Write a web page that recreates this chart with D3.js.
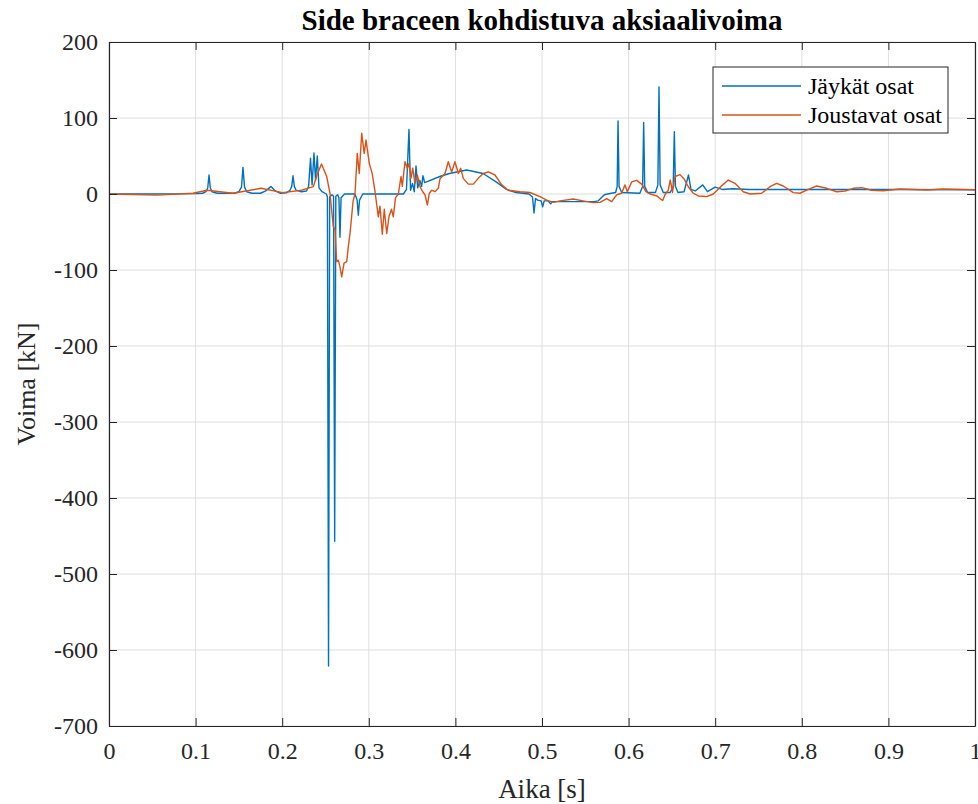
<!DOCTYPE html>
<html lang="fi">
<head>
  <meta charset="UTF-8">
  <title>Side braceen kohdistuva aksiaalivoima</title>
  <script src="https://cdn.jsdelivr.net/npm/d3@7"></script>
  <style>
    body { margin: 0; background: #fff; }
    .grid line { stroke: #dedede; stroke-width: 1; }
    .axis path, .axis line { stroke: #262626; }
  </style>
</head>
<body>
<svg id="chart"></svg>
<script>
  // tick labels
  const xTicks = [0, 0.1, 0.2, 0.3, 0.4, 0.5, 0.6, 0.7, 0.8, 0.9, 1];
  const yTicks = [200, 100, 0, -100, -200, -300, -400, -500, -600, -700];
  const seriesNames = ['Jäykät osat', 'Joustavat osat'];

  // [aika s, voima kN]
  const jaykat = [
    [0, 0], [0.05, 0], [0.10, 0.5], [0.108, 1], [0.112, 3], [0.114, 8], [0.1155, 25], [0.117, 8], [0.119, 3], [0.125, 1],
    [0.145, 1], [0.150, 3], [0.153, 9], [0.1547, 35], [0.1565, 9], [0.159, 3], [0.165, 1],
    [0.175, 1], [0.181, 4], [0.1871, 10], [0.192, 4], [0.198, 1],
    [0.205, 1.5], [0.209, 5], [0.211, 10], [0.2125, 24], [0.214, 10], [0.216, 5], [0.222, 3], [0.228, 4],
    [0.2305, 10], [0.2327, 47], [0.2345, 12], [0.2367, 54], [0.2385, 18], [0.2405, 50], [0.2425, 8], [0.246, 3], [0.251, 0],
    [0.2522, -4], [0.2535, -621], [0.2548, -4], [0.2575, -1], [0.2593, -3], [0.2606, -457], [0.2619, -3], [0.264, -1],
    [0.2655, -5], [0.2667, -57], [0.268, -5], [0.272, 0],
    [0.284, 0], [0.2865, -8], [0.2879, -28], [0.2893, -8], [0.293, 0],
    [0.340, 0], [0.3435, 6], [0.3464, 85], [0.3482, 5], [0.3505, 14], [0.3525, 3], [0.3545, 37], [0.3565, 8],
    [0.359, 18], [0.361, 10], [0.3625, 24], [0.3645, 15], [0.382, 23], [0.393, 27], [0.413, 31.6], [0.432, 27],
    [0.447, 16], [0.459, 6], [0.470, 2], [0.485, 0], [0.489, -4], [0.4908, -25], [0.4925, -6], [0.495, -8], [0.499, -9],
    [0.5008, -17], [0.5025, -9], [0.507, -9], [0.510, -13], [0.512, -10], [0.52, -10], [0.56, -10], [0.565, -9],
    [0.572, -1], [0.580, 1], [0.585, 2], [0.5868, 10], [0.5878, 96], [0.5890, 10], [0.592, 2], [0.613, 1],
    [0.6162, 10], [0.6174, 94], [0.6186, 10], [0.622, 2], [0.631, 2], [0.6338, 12], [0.6351, 141], [0.6364, 12],
    [0.640, 2], [0.648, 2], [0.6515, 10], [0.6528, 82], [0.6541, 10], [0.657, 2], [0.664, 3], [0.6692, 25],
    [0.672, 6], [0.677, 4], [0.6856, 12], [0.691, 3], [0.700, 9], [0.708, 6], [0.72, 7], [0.74, 6], [0.8, 6],
    [0.9, 6], [1.0, 5.5]
  ];

  const joustavat = [
    [0, 0], [0.0554, -1.5], [0.097, 1], [0.1132, 5], [0.1432, 1], [0.1755, 7.5], [0.2003, 1.8], [0.2225, 5],
    [0.2359, 9.6], [0.2402, 25], [0.2454, 39.5], [0.2514, 23], [0.2552, 1], [0.2590, -43], [0.2610, -47],
    [0.2629, -89], [0.2648, -87], [0.2667, -96], [0.2687, -109], [0.2714, -91], [0.2745, -89], [0.2763, -70],
    [0.2783, -52], [0.2818, -10], [0.2841, 1], [0.2867, 53.5], [0.2890, 27], [0.2918, 80], [0.2947, 53.5],
    [0.2968, 71], [0.3006, 40], [0.3039, 27], [0.3072, 3], [0.3110, -30], [0.3129, -16], [0.3156, -53],
    [0.3179, -20], [0.3207, -52], [0.3233, -30], [0.3262, -20], [0.3283, -30], [0.3308, -5], [0.3341, 0],
    [0.3372, 23], [0.3387, 10], [0.3418, 42.5], [0.3445, 34], [0.3464, 40], [0.3487, 21], [0.3507, 34],
    [0.3533, 14], [0.3560, 25], [0.3591, 10], [0.3622, 3], [0.3649, -1], [0.3676, -14.5], [0.3699, 1],
    [0.3726, 5], [0.3764, 3], [0.3803, 7.5], [0.3822, 20], [0.3880, 27], [0.3918, 42.5], [0.3957, 29],
    [0.3995, 42.5], [0.4034, 27], [0.4061, 34], [0.4091, 20.6], [0.4149, 13], [0.4207, 13], [0.4264, 20.6],
    [0.4322, 27], [0.4380, 29], [0.4457, 25], [0.4535, 12], [0.4611, 5], [0.4746, 3], [0.4861, 2], [0.4977, -3.5],
    [0.5054, -8], [0.5131, -11], [0.5208, -9], [0.5361, -6.5], [0.5473, -9], [0.5592, -11.4], [0.5670, -11],
    [0.5747, -6], [0.5805, -10], [0.5863, -1], [0.5920, 1], [0.5958, 12], [0.5985, 3], [0.6036, 16], [0.6093, 18],
    [0.6151, 13], [0.6201, 3], [0.6247, 0], [0.6325, -2.5], [0.6363, -6], [0.6394, -8.5], [0.6420, -1],
    [0.6458, 5], [0.6481, 18.5], [0.6507, 2], [0.6536, 23], [0.6594, 25.5], [0.6646, 19], [0.6689, 9.6],
    [0.6747, 1], [0.6805, -2.6], [0.6859, -3], [0.6902, -3.5], [0.6978, 0], [0.7067, 10], [0.7151, 18.4],
    [0.7229, 14], [0.7324, 3], [0.7402, 0], [0.7537, 1], [0.7633, 9.6], [0.7710, 14], [0.7786, 10.5],
    [0.7902, 1.8], [0.7979, 1], [0.8075, 6], [0.8172, 10.5], [0.8288, 7.5], [0.8403, 3], [0.8499, 4],
    [0.8595, 7.5], [0.8692, 8.3], [0.8807, 5], [0.8941, 4.3], [0.9134, 6.6], [0.9442, 5.3], [0.9630, 6.6],
    [1.0, 5.5]
  ];

  const colors = ['#0072BD', '#D95319'];
  const serif = '"Liberation Serif", "Times New Roman", serif';

  const width = 978, height = 804;
  const margin = {top: 42, right: 3, bottom: 78, left: 109};
  const innerW = width - margin.left - margin.right;
  const innerH = height - margin.top - margin.bottom;

  const svg = d3.select('#chart')
    .attr('width', width)
    .attr('height', height);

  const x = d3.scaleLinear().domain([0, 1]).range([0, innerW]);
  const y = d3.scaleLinear().domain([-700, 200]).range([innerH, 0]);

  const g = svg.append('g')
    .attr('transform', `translate(${margin.left},${margin.top})`);

  // grid
  const grid = g.append('g').attr('class', 'grid');
  grid.selectAll('.gx').data(xTicks).join('line')
    .attr('x1', d => x(d)).attr('x2', d => x(d))
    .attr('y1', 0).attr('y2', innerH);
  grid.selectAll('.gy').data(yTicks).join('line')
    .attr('x1', 0).attr('x2', innerW)
    .attr('y1', d => y(d)).attr('y2', d => y(d));

  // lines
  const line = d3.line().x(d => x(d[0])).y(d => y(d[1]));
  [jaykat, joustavat].forEach((data, i) => {
    g.append('path')
      .datum(data)
      .attr('fill', 'none')
      .attr('stroke', colors[i])
      .attr('stroke-width', 1.4)
      .attr('stroke-linejoin', 'round')
      .attr('d', line);
  });

  // axes (ticks pointing inward, box all around)
  const tickLen = 8;
  const styleAxis = a => a
    .attr('font-family', serif)
    .attr('font-size', 24)
    .call(s => s.selectAll('text').attr('fill', '#262626'));

  g.append('g').attr('class', 'axis')
    .attr('transform', `translate(0,${innerH})`)
    .call(d3.axisBottom(x).tickValues(xTicks).tickSizeInner(-tickLen).tickSizeOuter(0)
      .tickFormat(d => d === 0 || d === 1 ? String(d) : d.toFixed(1)))
    .call(styleAxis)
    .call(a => a.selectAll('text').attr('dy', '0.71em').attr('y', 16));

  g.append('g').attr('class', 'axis')
    .call(d3.axisLeft(y).tickValues(yTicks).tickSizeInner(-tickLen).tickSizeOuter(0)
      .tickFormat(d => String(d)))
    .call(styleAxis)
    .call(a => a.selectAll('text').attr('x', -11));

  g.append('g').attr('class', 'axis')
    .call(d3.axisTop(x).tickValues(xTicks).tickSizeInner(-tickLen).tickSizeOuter(0).tickFormat(''));

  g.append('g').attr('class', 'axis')
    .attr('transform', `translate(${innerW},0)`)
    .call(d3.axisRight(y).tickValues(yTicks).tickSizeInner(-tickLen).tickSizeOuter(0).tickFormat(''));

  g.selectAll('.axis path').attr('stroke-width', 1.2);

  // title and axis labels
  svg.append('text')
    .attr('x', margin.left + innerW / 2)
    .attr('y', 30)
    .attr('text-anchor', 'middle')
    .attr('font-family', serif)
    .attr('font-size', 29)
    .attr('font-weight', 'bold')
    .attr('fill', '#000')
    .text('Side braceen kohdistuva aksiaalivoima');

  svg.append('text')
    .attr('x', margin.left + innerW / 2)
    .attr('y', 798)
    .attr('text-anchor', 'middle')
    .attr('font-family', serif)
    .attr('font-size', 27)
    .attr('fill', '#262626')
    .text('Aika [s]');

  svg.append('text')
    .attr('transform', `translate(35,${margin.top + innerH / 2}) rotate(-90)`)
    .attr('text-anchor', 'middle')
    .attr('font-family', serif)
    .attr('font-size', 26)
    .attr('fill', '#262626')
    .text('Voima [kN]');

  // legend
  const legend = svg.append('g').attr('transform', 'translate(713,67)');
  legend.append('rect')
    .attr('width', 235).attr('height', 66)
    .attr('fill', '#fff')
    .attr('stroke', '#262626')
    .attr('stroke-width', 1);
  seriesNames.forEach((name, i) => {
    const ly = 19 + i * 29;
    legend.append('line')
      .attr('x1', 9).attr('x2', 88)
      .attr('y1', ly).attr('y2', ly)
      .attr('stroke', colors[i])
      .attr('stroke-width', 1.4);
    legend.append('text')
      .attr('x', 95).attr('y', ly)
      .attr('dy', '0.35em')
      .attr('font-family', serif)
      .attr('font-size', 24)
      .attr('fill', '#000')
      .text(name);
  });
</script>
</body>
</html>
